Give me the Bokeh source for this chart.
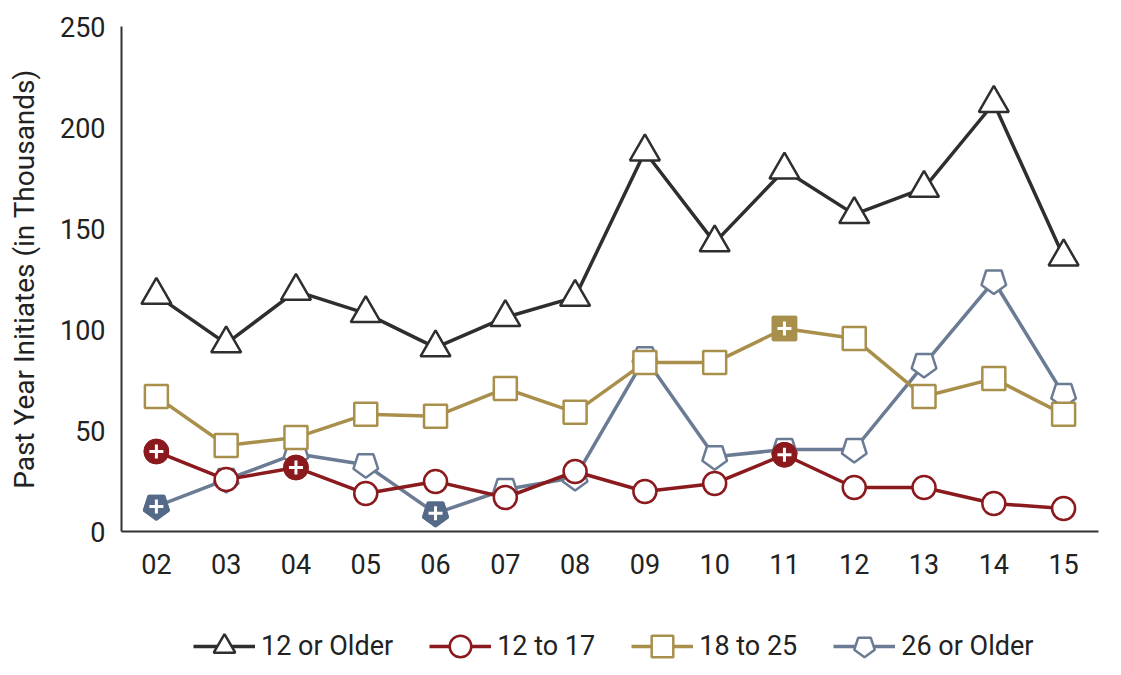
from bokeh.plotting import figure
from bokeh.layouts import column
from bokeh.models import Legend, LegendItem, Range1d, FixedTicker
from bokeh.embed import file_html
from bokeh.resources import INLINE

years = [2, 3, 4, 5, 6, 7, 8, 9, 10, 11, 12, 13, 14, 15]
year_labels = ["02", "03", "04", "05", "06", "07", "08", "09", "10", "11", "12", "13", "14", "15"]
older12 = [117, 93, 119, 108, 91, 106, 116, 188, 143, 179, 157, 170, 212, 136]
age12_17 = [39.6, 25.7, 31.7, 18.8, 24.8, 16.8, 29.7, 19.8, 23.8, 38, 21.8, 21.8, 13.9, 11.4]
age18_25 = [66.8, 42.6, 46.5, 58, 57, 70.8, 59, 83.7, 83.7, 100.5, 95.5, 66.8, 75.7, 58]
older26 = [12.4, 25.7, 38.5, 33, 9, 20.8, 26.7, 86, 37, 40.6, 40.6, 82.7, 124, 67.8]
sig12_17 = [1, 0, 1, 0, 0, 0, 0, 0, 0, 1, 0, 0, 0, 0]
sig18_25 = [0, 0, 0, 0, 0, 0, 0, 0, 0, 1, 0, 0, 0, 0]
sig26 = [1, 0, 0, 0, 1, 0, 0, 0, 0, 0, 0, 0, 0, 0]
y_ticks = [0, 50, 100, 150, 200, 250]
series_names = ["12 or Older", "12 to 17", "18 to 25", "26 or Older"]

FONT = "Roboto"
BL, BR = 121, 7

p = figure(width=1105, height=601, x_range=Range1d(1.5, 15.5), y_range=Range1d(0, 250),
           output_backend="svg", toolbar_location=None,
           min_border_left=BL, min_border_right=BR, min_border_top=26, min_border_bottom=70)
p.grid.visible = False
p.outline_line_color = None

for ax in (p.xaxis[0], p.yaxis[0]):
    ax.major_tick_line_color = None
    ax.minor_tick_line_color = None
    ax.major_tick_out = 0
    ax.major_tick_in = 0
    ax.minor_tick_out = 0
    ax.axis_line_color = "#333333"
    ax.axis_line_width = 2
    ax.major_label_text_font = FONT
    ax.major_label_text_font_size = "27px"
    ax.major_label_text_color = "#222222"

p.xaxis.ticker = FixedTicker(ticks=years)
p.xaxis.major_label_overrides = {y: l for y, l in zip(years, year_labels)}
p.xaxis.major_label_standoff = 22
p.yaxis.ticker = FixedTicker(ticks=y_ticks)
p.yaxis.major_label_standoff = 16
p.yaxis.axis_label = "Past Year Initiates (in Thousands)"
p.yaxis.axis_label_text_font = FONT
p.yaxis.axis_label_text_font_size = "28px"
p.yaxis.axis_label_text_font_style = "normal"
p.yaxis.axis_label_text_color = "#222222"
p.yaxis.axis_label_standoff = 16

C_BLACK = "#2e2e2e"
C_RED = "#8a1a1d"
C_GOLD = "#a8904c"
C_BLUE = "#6a7b93"
C_BLUE_D = "#556a88"

def sel(vals, flags):
    return [v for v, f in zip(vals, flags) if f]

LW = 3.5
MLW = 2.5
PENT_ANGLE = 3.14159

# 26 or Older
p.line(years, older26, line_color=C_BLUE, line_width=LW)
p.ngon(x=years, y=older26, radius=13, radius_units="screen", n=5,
       angle=PENT_ANGLE, fill_color="white", line_color=C_BLUE, line_width=MLW)
p.ngon(x=sel(years, sig26), y=sel(older26, sig26), radius=13, radius_units="screen", n=5,
       angle=PENT_ANGLE, fill_color=C_BLUE_D, line_color=C_BLUE_D, line_width=MLW)
p.scatter(sel(years, sig26), sel(older26, sig26), marker="cross", size=14,
          line_color="white", line_width=3)

# 18 to 25
p.line(years, age18_25, line_color=C_GOLD, line_width=LW)
p.scatter(years, age18_25, marker="square", size=23, fill_color="white",
          line_color=C_GOLD, line_width=MLW)
p.scatter(sel(years, sig18_25), sel(age18_25, sig18_25), marker="square", size=23,
          fill_color=C_GOLD, line_color=C_GOLD, line_width=MLW)
p.scatter(sel(years, sig18_25), sel(age18_25, sig18_25), marker="cross", size=14,
          line_color="white", line_width=3)

# 12 to 17
p.line(years, age12_17, line_color=C_RED, line_width=LW)
p.scatter(years, age12_17, marker="circle", size=23, fill_color="white",
          line_color=C_RED, line_width=MLW)
p.scatter(sel(years, sig12_17), sel(age12_17, sig12_17), marker="circle", size=23,
          fill_color=C_RED, line_color=C_RED, line_width=MLW)
p.scatter(sel(years, sig12_17), sel(age12_17, sig12_17), marker="cross", size=14,
          line_color="white", line_width=3)

# 12 or Older
p.line(years, older12, line_color=C_BLACK, line_width=LW)
p.scatter(years, older12, marker="triangle", size=30, fill_color="white",
          line_color=C_BLACK, line_width=MLW)

# Legend figure (legend glyph renderers sit outside the visible range)
lg = figure(width=1105, height=73, x_range=Range1d(0, 1), y_range=Range1d(0, 1),
            output_backend="svg", toolbar_location=None,
            min_border_left=BL, min_border_right=BR, min_border_top=0, min_border_bottom=0)
lg.axis.visible = False
lg.grid.visible = False
lg.outline_line_color = None
off = [-10, -9]
l1 = lg.line(off, off, line_color=C_BLACK, line_width=LW)
m1 = lg.scatter(off, off, marker="triangle", size=28, fill_color="white", line_color=C_BLACK, line_width=MLW)
l2 = lg.line(off, off, line_color=C_RED, line_width=LW)
m2 = lg.scatter(off, off, marker="circle", size=23, fill_color="white", line_color=C_RED, line_width=MLW)
l3 = lg.line(off, off, line_color=C_GOLD, line_width=LW)
m3 = lg.scatter(off, off, marker="square", size=22, fill_color="white", line_color=C_GOLD, line_width=MLW)
l4 = lg.line(off, off, line_color=C_BLUE, line_width=LW)
m4 = lg.ngon(x=off, y=off, radius=13, radius_units="screen", n=5, angle=PENT_ANGLE,
             fill_color="white", line_color=C_BLUE, line_width=MLW)

legend = Legend(items=[
    LegendItem(label=series_names[0], renderers=[l1, m1]),
    LegendItem(label=series_names[1], renderers=[l2, m2]),
    LegendItem(label=series_names[2], renderers=[l3, m3]),
    LegendItem(label=series_names[3], renderers=[l4, m4]),
], orientation="horizontal", location=(72, 1), border_line_color=None,
    background_fill_alpha=0, label_text_font=FONT, label_text_font_size="27px",
    label_text_color="#222222", glyph_width=62, glyph_height=54, spacing=36,
    label_standoff=6, margin=0, padding=2)
lg.add_layout(legend, "center")

layout = column(p, lg, spacing=0)
open("out.html", "w").write(file_html(layout, INLINE))
